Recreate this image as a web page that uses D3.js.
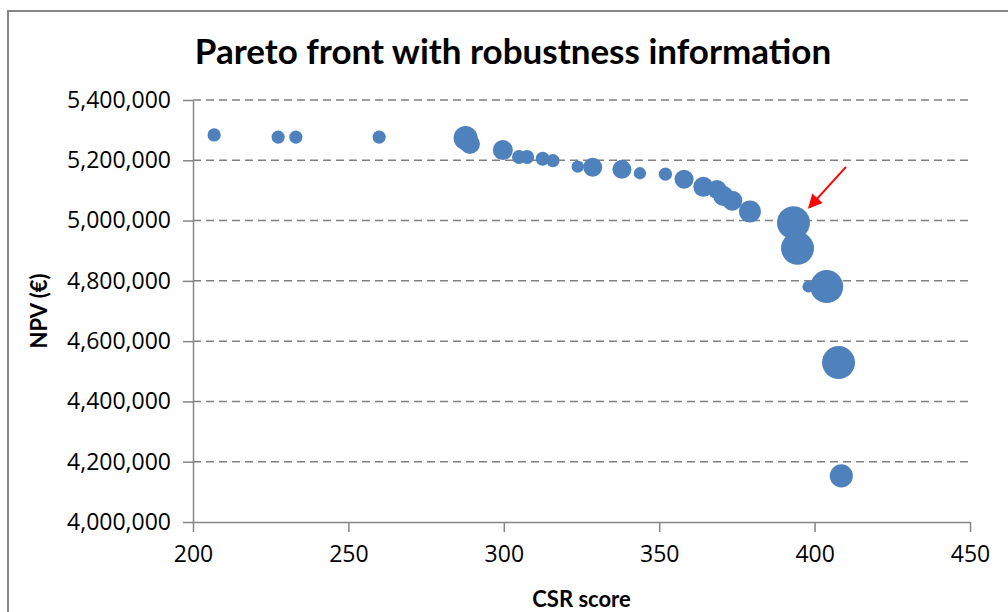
<!DOCTYPE html>
<html>
<head>
<meta charset="utf-8">
<script src="https://cdn.jsdelivr.net/npm/d3@7"></script>
<style>
  body { margin: 0; background: #fff; }
  svg { display: block; }
</style>
</head>
<body>
<div id="chart"></div>
<script>
// CSR score of each Pareto solution
var csrScores = [206.8, 227.4, 233.1, 259.9, 287.7, 289.1, 299.7, 304.9, 307.5, 312.5,
                 315.8, 323.8, 328.6, 338.0, 343.8, 352.0, 358.0, 364.2, 368.6, 370.6,
                 373.5, 379.2, 393.2, 394.5, 398.0, 403.9, 407.7, 408.6];
// NPV of each solution (euro)
var npvValues = [5284000, 5277000, 5277000, 5277000, 5274000, 5254000, 5234000, 5211000, 5211000, 5205000,
                 5199000, 5179000, 5177000, 5170000, 5157000, 5154000, 5137000, 5112000, 5103000, 5082000,
                 5066000, 5030000, 4993000, 4908000, 4781000, 4781000, 4529000, 4153000];
// robustness measure -> bubble size
var robustness = [16, 16, 16, 16, 53, 37, 37, 18, 18, 18,
                  16, 14, 33, 33, 14, 16, 33, 37, 33, 37,
                  37, 44, 100, 100, 13, 100, 100, 49];

var xTicks = [200, 250, 300, 350, 400, 450];
var yTicks = [4000000, 4200000, 4400000, 4600000, 4800000, 5000000, 5200000, 5400000];

// annotation arrow (data coords): from -> to
var arrowFrom = [410.1, 5178000];
var arrowTo = [398.2, 5043000];

var data = csrScores.map(function(c, i){
  return {csr: c, npv: npvValues[i], rob: robustness[i]};
});

var width = 1008, height = 612;
var margin = {top: 100, right: 38, bottom: 90, left: 193};

var svg = d3.select("#chart").append("svg")
  .attr("width", width)
  .attr("height", height);

svg.append("rect").attr("width", width).attr("height", height).attr("fill", "#fff");

// outer chart frame (runs off the right/bottom edge)
svg.append("rect")
  .attr("x", 8).attr("y", 11)
  .attr("width", 1100).attr("height", 700)
  .attr("fill", "none")
  .attr("stroke", "#868686")
  .attr("stroke-width", 2);

var x = d3.scaleLinear().domain([200, 450]).range([margin.left, width - margin.right]);
var y = d3.scaleLinear().domain([4000000, 5400000]).range([height - margin.bottom, margin.top]);
var r = d3.scaleSqrt().domain([0, 100]).range([0, 16.5]);

var fmt = d3.format(",");
var tickFont = "'Open Sans', sans-serif";
var labelFont = "'Lato', sans-serif";

// gridlines
svg.append("g")
  .selectAll("line")
  .data(yTicks.filter(function(d){ return d > 4000000; }))
  .enter().append("line")
  .attr("x1", x(200)).attr("x2", x(450))
  .attr("y1", function(d){ return y(d); })
  .attr("y2", function(d){ return y(d); })
  .attr("stroke", "#808080")
  .attr("stroke-width", 1.5)
  .attr("stroke-dasharray", "8,5");

// y axis
var yAxis = svg.append("g")
  .attr("transform", "translate(" + x(200) + ",0)")
  .call(d3.axisLeft(y).tickValues(yTicks).tickFormat(fmt).tickSizeInner(10).tickSizeOuter(0).tickPadding(12));

// x axis
var xAxis = svg.append("g")
  .attr("transform", "translate(0," + y(4000000) + ")")
  .call(d3.axisBottom(x).tickValues(xTicks).tickSizeInner(10).tickSizeOuter(0).tickPadding(14));

[yAxis, xAxis].forEach(function(g){
  g.select(".domain").attr("stroke", "#868686").attr("stroke-width", 1.5);
  g.selectAll(".tick line").attr("stroke", "#868686").attr("stroke-width", 1.5);
  g.selectAll(".tick text")
    .attr("fill", "#000")
    .style("font-family", tickFont)
    .style("font-size", "23px");
});

// bubbles
svg.append("g")
  .selectAll("circle")
  .data(data)
  .enter().append("circle")
  .attr("cx", function(d){ return x(d.csr); })
  .attr("cy", function(d){ return y(d.npv); })
  .attr("r", function(d){ return r(d.rob); })
  .attr("fill", "#4F81BD");

// red arrow annotation
svg.append("defs").append("marker")
  .attr("id", "arrowhead")
  .attr("viewBox", "0 0 10 10")
  .attr("refX", 9).attr("refY", 5)
  .attr("markerWidth", 8).attr("markerHeight", 7)
  .attr("orient", "auto")
  .append("path")
  .attr("d", "M0,0 L10,5 L0,10 z")
  .attr("fill", "#FF0000");

svg.append("line")
  .attr("x1", x(arrowFrom[0])).attr("y1", y(arrowFrom[1]))
  .attr("x2", x(arrowTo[0])).attr("y2", y(arrowTo[1]))
  .attr("stroke", "#FF0000")
  .attr("stroke-width", 2)
  .attr("marker-end", "url(#arrowhead)");

// title
svg.append("text")
  .attr("x", 513).attr("y", 64)
  .attr("text-anchor", "middle")
  .style("font-family", labelFont)
  .style("font-weight", "bold")
  .style("font-size", "35px")
  .text("Pareto front with robustness information");

// axis titles
svg.append("text")
  .attr("x", (x(200) + x(450)) / 2).attr("y", 607)
  .attr("text-anchor", "middle")
  .style("font-family", labelFont)
  .style("font-weight", "bold")
  .style("font-size", "22px")
  .text("CSR score");

svg.append("text")
  .attr("transform", "translate(47," + (y(4700000)) + ") rotate(-90)")
  .attr("text-anchor", "middle")
  .style("font-family", labelFont)
  .style("font-weight", "bold")
  .style("font-size", "22px")
  .text("NPV (€)");
</script>
</body>
</html>
